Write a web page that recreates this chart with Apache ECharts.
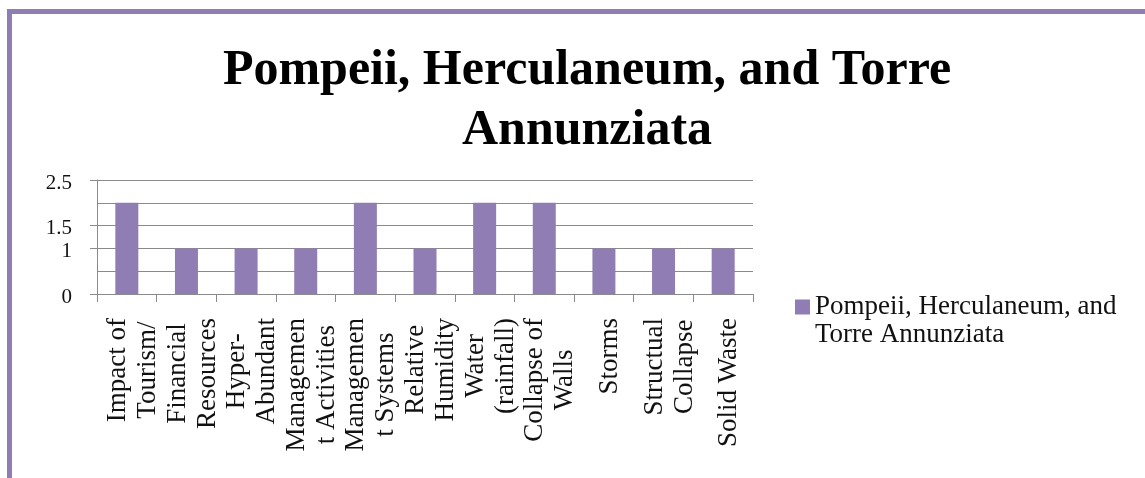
<!DOCTYPE html>
<html>
<head>
<meta charset="utf-8">
<script src="https://cdn.jsdelivr.net/npm/echarts@6/dist/echarts.min.js"></script>
<style>
  html, body { margin: 0; padding: 0; background: #fff; }
  #frame {
    position: absolute; left: 7px; top: 9px; width: 1138px; height: 469px;
    border-top: 5px solid #8f7db4; border-left: 5px solid #8f7db4; box-sizing: border-box;
  }
  #chart { position: absolute; left: 0; top: 0; width: 1145px; height: 478px; }
</style>
</head>
<body>
<div id="frame"></div>
<div id="chart"></div>
<script>
// Chart data
const chartTitle = "Pompeii, Herculaneum, and Torre\nAnnunziata";
const seriesName = "Pompeii, Herculaneum, and Torre Annunziata";
const categories = [
  "Impact of\nTourism/", "Financial\nResources", "Hyper-\nAbundant",
  "Managemen\nt Activities", "Managemen\nt Systems", "Relative\nHumidity",
  "Water\n(rainfall)", "Collapse of\nWalls", "Storms",
  "Structual\nCollapse", "Solid Waste"
];
const values = [2, 1, 1, 1, 2, 1, 2, 2, 1, 1, 1];
const yTicks = [0, 0.5, 1, 1.5, 2, 2.5];

const purple = "#8f7db4";
const grey = "#8a8a8a";
const serif = "Liberation Serif";

const chart = echarts.init(document.getElementById("chart"));

// Wrap each label line in a centered rich token so lines center inside the block
function wrapLabel(text) {
  return text.split("\n").map(s => "{c|" + s + "}").join("\n");
}

chart.setOption({
  animation: false,
  backgroundColor: "transparent",
  title: {
    text: chartTitle,
    left: 582,
    top: 36,
    textAlign: "center",
    textStyle: { fontFamily: serif, fontWeight: "bold", fontSize: 50, lineHeight: 60, color: "#000" }
  },
  legend: {
    orient: "vertical",
    left: 795,
    top: 265,
    padding: 0,
    itemWidth: 15,
    itemHeight: 15,
    icon: "rect",
    data: [seriesName],
    // leading empty line keeps the marker level with the first text line
    formatter: name => "\n" + name.replace(", and ", ", and\n"),
    textStyle: { fontFamily: serif, fontSize: 27, lineHeight: 28, color: "#111" }
  },
  grid: { left: 97, right: 392, top: 180, bottom: 184 },
  xAxis: {
    type: "category",
    data: categories,
    axisLine: { lineStyle: { color: grey, width: 1 } },
    axisTick: { show: true, length: 8, lineStyle: { color: grey } },
    axisLabel: {
      rotate: 90,
      interval: 0,
      margin: 24,
      align: "right",
      formatter: wrapLabel,
      color: "#111",
      fontFamily: serif,
      fontSize: 27,
      lineHeight: 30,
      padding: [12, 0, 0, 0],
      rich: { c: { align: "center", fontFamily: serif, fontSize: 27, lineHeight: 30, color: "#111" } }
    }
  },
  yAxis: {
    type: "value",
    min: 0,
    max: 2.5,
    interval: 0.5,
    axisLine: { show: true, lineStyle: { color: grey, width: 1 } },
    axisTick: { show: true, length: 7, lineStyle: { color: grey } },
    splitLine: { lineStyle: { color: grey, width: 1 } },
    axisLabel: {
      customValues: yTicks,
      interval: 0,
      showMinLabel: true,
      showMaxLabel: true,
      hideOverlap: false,
      margin: 25,
      fontSize: 12,
      formatter: v => "{v|" + v + "}",
      rich: { v: { fontFamily: serif, fontSize: 21, lineHeight: 12, padding: [6, 0, 0, 0], color: "#111" } }
    }
  },
  series: [{
    name: seriesName,
    type: "bar",
    data: values,
    barWidth: 23,
    itemStyle: { color: purple }
  }]
});
</script>
</body>
</html>
